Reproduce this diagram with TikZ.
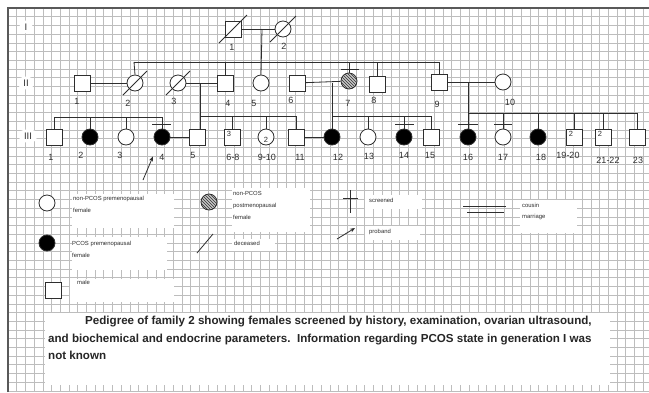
\documentclass[tikz,border=0pt]{standalone}
\usepackage{fontspec}
\setmainfont{Liberation Sans}
\usetikzlibrary{patterns,arrows.meta}
\definecolor{lc}{HTML}{2E2E2E}
\definecolor{gridc}{HTML}{BDBDBD}
\begin{document}
\begin{tikzpicture}[x=1pt,y=-1pt,
  ln/.style={draw=lc, line width=0.8pt},
  msq/.style={draw=lc, line width=0.8pt, fill=white, rectangle, minimum size=16pt, inner sep=0pt},
  fem/.style={draw=lc, line width=0.8pt, fill=white, circle, minimum size=16pt, inner sep=0pt},
  pcos/.style={fem, fill=black},
  hatchf/.style={fem, fill=gray!45, postaction={pattern=north west lines, pattern color=black!80}},
  num/.style={font=\fontsize{9}{10}\selectfont, inner sep=0pt, text=lc},
  innum/.style={font=\fontsize{7.5}{8}\selectfont, inner sep=0pt, text=lc},
  leg/.style={font=\fontsize{5.9}{12}\selectfont, align=left, inner sep=0pt, anchor=north west, text=lc},
  gen/.style={fill=white, font=\fontsize{9.5}{10}\selectfont, inner xsep=5pt, inner ysep=3pt, text=lc, rounded corners=5pt},
  scr/.style={draw=lc, line width=0.8pt}
]
\useasboundingbox (0,0) rectangle (649,392);
\fill[white] (0,0) rectangle (649,392);
% grid
\foreach \gx in {8,16.7,...,649} \draw[gridc, line width=0.5pt] (\gx,8) -- (\gx,392);
\foreach \gy in {8,16.7,...,392} \draw[gridc, line width=0.5pt] (8,\gy) -- (649,\gy);
\draw[gray!70!black, line width=1.4pt] (8,392) -- (8,8) -- (649,8);

% white boxes of legend and caption
\fill[white] (72,194) rectangle (174,228);
\fill[white] (72,237) rectangle (167,270);
\fill[white] (232,188) rectangle (310,232);
\fill[white] (232,239) rectangle (275,251);
\fill[white] (365,195) rectangle (422,209);
\fill[white] (365,226) rectangle (420,240);
\fill[white] (520,200) rectangle (577,233);
\fill[white] (70,279) rectangle (174,302);
\fill[white] (45,313) rectangle (610,385);

% generation labels
\node[gen] (gI) at (26,27) {I};
\node[gen] (gII) at (26,83) {II};
\node[gen] (gIII) at (28,136) {III};

% ---------- generation I ----------
\node[msq] (i1) at (233,29) {};
\node[fem] (i2) at (283,29) {};
\draw[ln] ([shift={(-14,14)}]i1.center) -- ([shift={(14,-14)}]i1.center);
\draw[ln] ([shift={(-13,13)}]i2.center) -- ([shift={(13,-13)}]i2.center);
\draw[ln] (i1) -- (i2);
\node[num] (li1) at (232,47) {1};
\node[num] (li2) at (284,46) {2};

% ---------- generation II ----------
\node[msq] (ii1) at (82,83) {};
\node[fem] (ii2) at (135,83) {};
\node[fem] (ii3) at (178,83) {};
\node[msq] (ii4) at (225,83) {};
\node[fem] (ii5) at (261,83) {};
\node[msq] (ii6) at (297,83) {};
\node[hatchf] (ii7) at (349,81) {};
\node[msq] (ii8) at (377,84) {};
\node[msq] (ii9) at (439,82) {};
\node[fem] (ii10) at (503,82) {};
\draw[ln] ([shift={(-12,12)}]ii2.center) -- ([shift={(12,-12)}]ii2.center);
\draw[ln] ([shift={(-12,12)}]ii3.center) -- ([shift={(12,-12)}]ii3.center);
\node[num] (lii1) at (77,101) {1};
\node[num] (lii2) at (128,103) {2};
\node[num] (lii3) at (174,101) {3};
\node[num] (lii4) at (228,103) {4};
\node[num] (lii5) at (254,103) {5};
\node[num] (lii6) at (291,100) {6};
\node[num] (lii7) at (348,103) {7};
\node[num] (lii8) at (374,100) {8};
\node[num] (lii9) at (437,104) {9};
\node[num] (lii10) at (510,102) {10};
% descent I -> II
\coordinate (mI) at (262,29);
\draw[ln] (mI) -- (ii5.north);
\coordinate (sIIa) at (134,62);
\coordinate (sIIb) at (440,62);
\draw[ln] (sIIa) -- (sIIb);
\draw[ln] (sIIa) -- (ii2.north);
\draw[ln] (ii4.north |- sIIa) -- (ii4.north);
\draw[ln] (ii7.north |- sIIa) -- (ii7.north);
\draw[scr] (341,69) -- (359,69);
\draw[ln] (ii8.north |- sIIa) -- (ii8.north);
\draw[ln] (ii9.north |- sIIa) -- (ii9.north);
% marriages II
\draw[ln] (ii1) -- (ii2);
\draw[ln] (ii3) -- (ii4);
\draw[ln] (ii6) -- (ii7);
\draw[ln] (ii9) -- (ii10);

% ---------- generation III ----------
\node[msq] (iii1) at (54,137) {};
\node[pcos] (iii2) at (90,137) {};
\node[fem] (iii3) at (126,137) {};
\node[pcos] (iii4) at (162,137) {};
\node[msq] (iii5) at (197,137) {};
\node[msq] (iii6) at (232,137) {};
\node[innum] at (229,134) {3};
\node[fem] (iii9) at (266,137) {};
\node[innum] at (266,140) {2};
\node[msq] (iii11) at (296,137) {};
\node[pcos] (iii12) at (332,137) {};
\node[fem] (iii13) at (368,137) {};
\node[pcos] (iii14) at (404,137) {};
\node[msq] (iii15) at (431,137) {};
\node[pcos] (iii16) at (468,137) {};
\node[fem] (iii17) at (503,137) {};
\node[pcos] (iii18) at (538,137) {};
\node[msq] (iii19) at (574,137) {};
\node[innum] at (571,134) {2};
\node[msq] (iii21) at (603,137) {};
\node[innum] at (600,134) {2};
\node[msq] (iii23) at (637,137) {};
\node[num] (liii1) at (51,157) {1};
\node[num] (liii2) at (81,155) {2};
\node[num] (liii3) at (120,155) {3};
\node[num] (liii4) at (162,157) {4};
\node[num] (liii5) at (193,155) {5};
\node[num] (liii6) at (233,157) {6-8};
\node[num] (liii9) at (267,157) {9-10};
\node[num] (liii11) at (300,157) {11};
\node[num] (liii12) at (338,157) {12};
\node[num] (liii13) at (369,156) {13};
\node[num] (liii14) at (404,155) {14};
\node[num] (liii15) at (430,155) {15};
\node[num] (liii16) at (468,157) {16};
\node[num] (liii17) at (503,157) {17};
\node[num] (liii18) at (541,157) {18};
\node[num] (liii19) at (568,155) {19-20};
\node[num] (liii21) at (608,160) {21-22};
\node[num] (liii23) at (638,160) {23};

% sibship III-1..4
\coordinate (sA1) at (54,117);
\coordinate (sA2) at (162,117);
\draw[ln] (sA1) -- (sA2);
\draw[ln] (sA1) -- (iii1.north);
\draw[ln] (iii2.north |- sA1) -- (iii2.north);
\draw[ln] (iii3.north |- sA1) -- (iii3.north);
\draw[ln] (sA2) -- (iii4.north);
\draw[scr] (152,124) -- (171,124);
% family II-3 x II-4
\coordinate (mB) at (200,83);
\coordinate (sB2) at (296,116);
\draw[ln] (mB) -- (mB |- iii5.north);
\draw[ln] (mB |- sB2) -- (sB2);
\draw[ln] (iii6.north |- sB2) -- (iii6.north);
\draw[ln] (iii9.north |- sB2) -- (iii9.north);
\draw[ln] (sB2) -- (iii11.north);
% family II-6 x II-7
\coordinate (mC) at (332,83);
\coordinate (sC2) at (431,116);
\draw[ln] (mC) -- (iii12.north);
\draw[ln] (mC |- sC2) -- (sC2);
\draw[ln] (iii13.north |- sC2) -- (iii13.north);
\draw[ln] (iii14.north |- sC2) -- (iii14.north);
\draw[scr] (395,124) -- (414,124);
\draw[ln] (sC2) -- (iii15.north);
% family II-9 x II-10
\coordinate (mD) at (468,82);
\coordinate (sD2) at (637,113);
\draw[ln] (mD) -- (iii16.north);
\draw[scr] (458,124) -- (478,124);
\draw[ln] (mD |- sD2) -- (sD2);
\draw[ln] (iii17.north |- sD2) -- (iii17.north);
\draw[scr] (494,124) -- (512,124);
\draw[ln] (iii18.north |- sD2) -- (iii18.north);
\draw[ln] (iii19.north |- sD2) -- (iii19.north);
\draw[ln] (iii21.north |- sD2) -- (iii21.north);
\draw[ln] (sD2) -- (iii23.north);
% marriages III
\draw[ln] (iii4) -- (iii5);
\draw[ln] (iii11) -- (iii12);
% proband arrow
\coordinate (pa) at (143,180);
\draw[ln, -{Stealth[length=5pt,width=4pt]}] (pa) -- ([shift={(-9,11)}]iii4.south);

% ---------- legend ----------
\node[fem] (k1) at (47,203) {};
\node[leg] (k1t) at (73,196) {non-PCOS premenopausal\\female};
\node[pcos] (k2) at (47,243) {};
\node[leg] (k2t) at (72,241) {PCOS premenopausal\\female};
\node[msq] (k3) at (53,290) {};
\node[leg] (k3t) at (77,280) {male};
\node[hatchf] (k4) at (209,202) {};
\node[leg] (k4t) at (233,191) {non-PCOS\\postmenopausal\\female};
\coordinate (k5a) at (197,253);
\coordinate (k5b) at (213,234);
\draw[ln] (k5a) -- (k5b);
\node[leg] (k5t) at (234,241) {deceased};
\coordinate (k6a) at (350,190);
\coordinate (k6b) at (350,213);
\coordinate (k6c) at (343,198);
\coordinate (k6d) at (358,198);
\draw[scr] (k6a) -- (k6b);
\draw[scr] (k6c) -- (k6d);
\node[leg] (k6t) at (369,198) {screened};
\coordinate (k7a) at (337,239);
\coordinate (k7b) at (355,228);
\draw[ln, -{Stealth[length=5pt,width=4pt]}] (k7a) -- (k7b);
\node[leg] (k7t) at (369,229) {proband};
\coordinate (k8a) at (463,206);
\coordinate (k8b) at (506,206);
\coordinate (k8c) at (467,212);
\coordinate (k8d) at (504,212);
\draw[ln] (k8a) -- (k8b);
\draw[ln] (k8c) -- (k8d);
\node[leg, font=\fontsize{5.9}{11}\selectfont] (k8t) at (522,203) {cousin\\marriage};

% caption
\node[anchor=north west, inner sep=0pt, align=left, text=black!85,
      font=\bfseries\fontsize{11.6}{17.5}\selectfont] (cap) at (48,316)
  {\hspace*{37pt}Pedigree of family 2 showing females screened by history, examination, ovarian ultrasound,\\
   and biochemical and endocrine parameters.\ \ Information regarding PCOS state in generation I was\\
   not known};
\end{tikzpicture}
\end{document}
